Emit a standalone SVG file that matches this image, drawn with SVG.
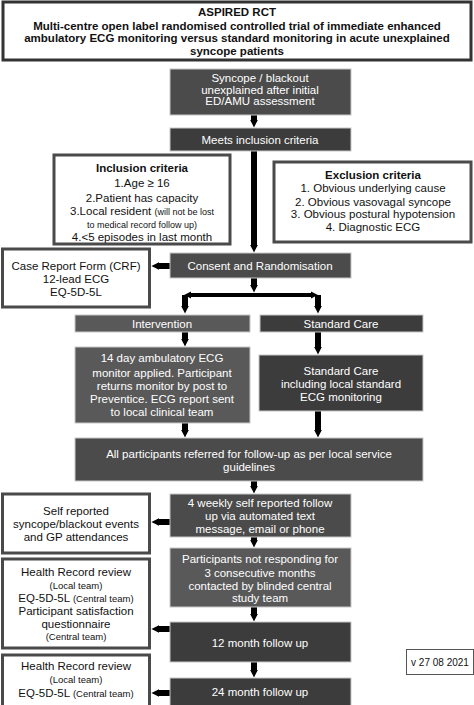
<svg xmlns="http://www.w3.org/2000/svg" width="474" height="705" viewBox="0 0 474 705">
<defs>
<style>
text{font-family:"Liberation Sans",Arial,sans-serif;font-size:11.5px;text-anchor:middle}
.w{fill:#fff}
.k{fill:#111}
.b{font-weight:bold}
.s{font-size:9.5px}
.xs{font-size:9px}
.dk{fill:#3c3c3c;stroke:#c8c8c8;stroke-width:1}
.md{fill:#4b4b4b;stroke:#c8c8c8;stroke-width:1}
.lt{fill:#595959;stroke:#c8c8c8;stroke-width:1}
.wb{fill:#fff;stroke:#4a4a4a;stroke-width:3}
.ar{stroke:#000;stroke-width:6;fill:none}
.th{stroke:#000;stroke-width:4;fill:none}
</style>
<marker id="h" viewBox="0 0 10 10" refX="3" refY="5" markerWidth="8" markerHeight="16" markerUnits="userSpaceOnUse" orient="auto">
<path d="M0,0 L10,5 L0,10 z" fill="#000"/>
</marker>
<marker id="hs" viewBox="0 0 10 10" refX="3" refY="5" markerWidth="7" markerHeight="10" markerUnits="userSpaceOnUse" orient="auto">
<path d="M0,0 L10,5 L0,10 z" fill="#000"/>
</marker>
</defs>
<rect width="474" height="705" fill="#fff"/>

<g id="connectors">
<line class="ar" x1="254" y1="115" x2="254" y2="122" marker-end="url(#h)"/>
<line class="ar" x1="254" y1="151" x2="254" y2="247" marker-end="url(#h)"/>
<line class="ar" x1="170" y1="266" x2="157" y2="266" marker-end="url(#h)"/>
<line class="ar" x1="254" y1="278" x2="254" y2="287" marker-end="url(#h)"/>
<line class="th" x1="254" y1="295" x2="189" y2="295" marker-end="url(#hs)"/>
<line class="th" x1="254" y1="295" x2="313" y2="295" marker-end="url(#hs)"/>
<line class="ar" x1="185" y1="295" x2="185" y2="308" marker-end="url(#h)"/>
<line class="ar" x1="318" y1="295" x2="318" y2="308" marker-end="url(#h)"/>
<line class="ar" x1="185" y1="332" x2="185" y2="341" marker-end="url(#h)"/>
<line class="ar" x1="318" y1="332" x2="318" y2="349" marker-end="url(#h)"/>
<line class="ar" x1="185" y1="423" x2="185" y2="432" marker-end="url(#h)"/>
<line class="ar" x1="318" y1="411" x2="318" y2="432" marker-end="url(#h)"/>
<line class="ar" x1="254" y1="481" x2="254" y2="488" marker-end="url(#h)"/>
<line class="ar" x1="170" y1="522" x2="157" y2="522" marker-end="url(#h)"/>
<line class="ar" x1="254" y1="537" x2="254" y2="542" marker-end="url(#h)"/>
<line class="ar" x1="254" y1="607" x2="254" y2="616" marker-end="url(#h)"/>
<line class="ar" x1="170" y1="629" x2="157" y2="629" marker-end="url(#h)"/>
<line class="ar" x1="254" y1="662" x2="254" y2="672" marker-end="url(#h)"/>
<line class="ar" x1="170" y1="693" x2="157" y2="693" marker-end="url(#h)"/>
</g>

<g id="title">
<rect x="3" y="2" width="468" height="58" fill="#fff" stroke="#333" stroke-width="3"/>
<text class="k b" x="237" y="16">ASPIRED RCT</text>
<text class="k b" x="237" y="29.5">Multi-centre open label randomised controlled trial of immediate enhanced</text>
<text class="k b" x="237" y="42">ambulatory ECG monitoring versus standard monitoring in acute unexplained</text>
<text class="k b" x="237" y="54.5">syncope patients</text>
</g>

<g id="syncope">
<rect class="md" x="170" y="69" width="181" height="46"/>
<text class="w" x="260" y="82">Syncope / blackout</text>
<text class="w" x="260" y="93.5">unexplained after initial</text>
<text class="w" x="260" y="105">ED/AMU assessment</text>
</g>

<g id="meets">
<rect class="dk" x="170" y="128" width="181" height="23"/>
<text class="w" x="260" y="144">Meets inclusion criteria</text>
</g>

<g id="inclusion">
<rect class="wb" x="54" y="155" width="176" height="89"/>
<text class="k b" x="142" y="172">Inclusion criteria</text>
<text class="k" x="142" y="187">1.Age ≥ 16</text>
<text class="k" x="142" y="202">2.Patient has capacity</text>
<text class="k" x="142" y="214.5">3.Local resident <tspan class="xs">(will not be lost</tspan></text>
<text class="k xs" x="142" y="227.5">to medical record follow up)</text>
<text class="k" x="142" y="241">4.&lt;5 episodes in last month</text>
</g>

<g id="exclusion">
<rect class="wb" x="274" y="162" width="197" height="80"/>
<text class="k b" x="373" y="179">Exclusion criteria</text>
<text class="k" x="373" y="192">1. Obvious underlying cause</text>
<text class="k" x="373" y="206">2. Obvious vasovagal syncope</text>
<text class="k" x="373" y="218">3. Obvious postural hypotension</text>
<text class="k" x="373" y="231">4. Diagnostic ECG</text>
</g>

<g id="crf">
<rect class="wb" x="2.5" y="249" width="147" height="58"/>
<text class="k" x="76" y="270">Case Report Form (CRF)</text>
<text class="k" x="76" y="282.5">12-lead ECG</text>
<text class="k" x="76" y="296">EQ-5D-5L</text>
</g>

<g id="consent">
<rect class="md" x="170" y="253" width="181" height="25"/>
<text class="w" x="260" y="270">Consent and Randomisation</text>
</g>

<g id="intervention">
<rect class="lt" x="75" y="315" width="175" height="17"/>
<text class="w" x="162" y="328">Intervention</text>
</g>

<g id="standard">
<rect class="dk" x="260" y="315" width="163" height="17"/>
<text class="w" x="341" y="328">Standard Care</text>
</g>

<g id="int-detail">
<rect class="lt" x="75" y="347" width="175" height="76"/>
<text class="w" x="162" y="362">14 day ambulatory ECG</text>
<text class="w" x="162" y="377">monitor applied. Participant</text>
<text class="w" x="162" y="390">returns monitor by post to</text>
<text class="w" x="162" y="403">Preventice. ECG report sent</text>
<text class="w" x="162" y="416">to local clinical team</text>
</g>

<g id="std-detail">
<rect class="dk" x="259" y="355" width="164" height="56"/>
<text class="w" x="341" y="375">Standard Care</text>
<text class="w" x="341" y="388">including local standard</text>
<text class="w" x="341" y="401">ECG monitoring</text>
</g>

<g id="all">
<rect class="md" x="75" y="438" width="348" height="43"/>
<text class="w" x="249" y="458">All participants referred for follow-up as per local service</text>
<text class="w" x="249" y="471">guidelines</text>
</g>

<g id="weekly">
<rect class="md" x="170" y="494" width="181" height="43"/>
<text class="w" x="260" y="507">4 weekly self reported follow</text>
<text class="w" x="260" y="520">up via automated text</text>
<text class="w" x="260" y="533">message, email or phone</text>
</g>

<g id="self">
<rect class="wb" x="2.5" y="494" width="147" height="59"/>
<text class="k" x="76" y="515">Self reported</text>
<text class="k" x="76" y="528">syncope/blackout events</text>
<text class="k" x="76" y="541">and GP attendances</text>
</g>

<g id="notresp">
<rect class="lt" x="170" y="548" width="181" height="59"/>
<text class="w" x="260" y="563">Participants not responding for</text>
<text class="w" x="260" y="577">3 consecutive months</text>
<text class="w" x="260" y="590">contacted by blinded central</text>
<text class="w" x="260" y="602">study team</text>
</g>

<g id="hr1">
<rect class="wb" x="2.5" y="559" width="147" height="89"/>
<text class="k" x="76" y="576">Health Record review</text>
<text class="k s" x="76" y="589">(Local team)</text>
<text class="k" x="76" y="602">EQ-5D-5L <tspan class="s">(Central team)</tspan></text>
<text class="k" x="76" y="615">Participant satisfaction</text>
<text class="k" x="76" y="628">questionnaire</text>
<text class="k s" x="76" y="640">(Central team)</text>
</g>

<g id="m12">
<rect class="dk" x="170" y="622" width="181" height="40"/>
<text class="w" x="260" y="647">12 month follow up</text>
</g>

<g id="hr2">
<rect class="wb" x="2.5" y="655" width="147" height="54"/>
<text class="k" x="76" y="670">Health Record review</text>
<text class="k s" x="76" y="683">(Local team)</text>
<text class="k" x="76" y="697">EQ-5D-5L <tspan class="s">(Central team)</tspan></text>
</g>

<g id="m24">
<rect class="dk" x="170" y="678" width="181" height="30"/>
<text class="w" x="260" y="696">24 month follow up</text>
</g>

<g id="version">
<rect x="406.5" y="649.5" width="67" height="25" fill="#fff" stroke="#555" stroke-width="1"/>
<text class="k" x="440" y="666" style="font-size:10px">v 27 08 2021</text>
</g>
</svg>
